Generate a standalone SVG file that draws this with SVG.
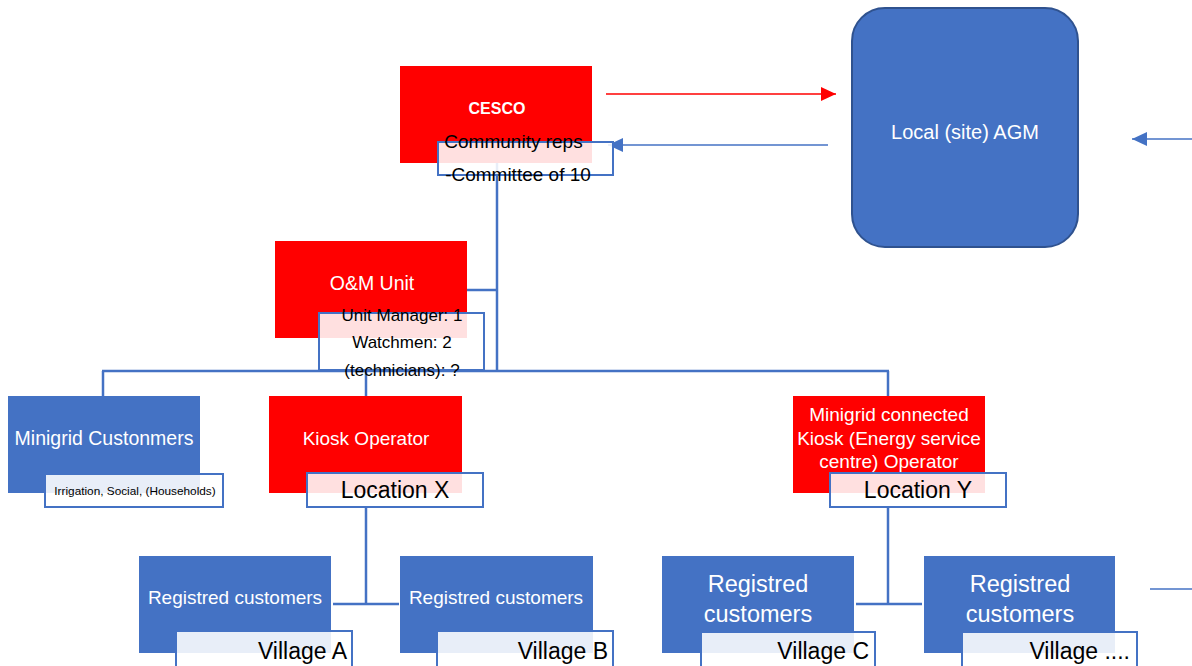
<svg xmlns="http://www.w3.org/2000/svg" width="1192" height="666" viewBox="0 0 1192 666">
<style>
.red{fill:#ff0000}
.blue{fill:#4472c4}
.sub{fill:#ffffff;fill-opacity:0.88;stroke:#4472c4;stroke-width:2}
.conn{stroke:#4472c4;stroke-width:2.5;fill:none}
.arr{stroke-width:1.5;fill:none}
text{font-family:"Liberation Sans",Arial,sans-serif}
.w{fill:#ffffff}
.k{fill:#000000}
.m{text-anchor:middle}
.e{text-anchor:end}
</style>
<defs>
<marker id="ahRed" markerUnits="userSpaceOnUse" markerWidth="16" markerHeight="16" refX="15" refY="7" orient="auto"><path d="M0,0 L15,7 L0,14 Z" fill="#ff0000"/></marker>
<marker id="ahBlue" markerUnits="userSpaceOnUse" markerWidth="16" markerHeight="16" refX="15" refY="7" orient="auto"><path d="M0,0 L15,7 L0,14 Z" fill="#4472c4"/></marker>
</defs>
<g id="connectors">
<line class="conn" x1="497" y1="163" x2="497" y2="371"/>
<line class="conn" x1="467" y1="290" x2="497" y2="290"/>
<line class="conn" x1="102" y1="371" x2="889" y2="371"/>
<line class="conn" x1="103" y1="371" x2="103" y2="396"/>
<line class="conn" x1="366" y1="371" x2="366" y2="396"/>
<line class="conn" x1="888" y1="371" x2="888" y2="396"/>
<line class="conn" x1="366" y1="507" x2="366" y2="604"/>
<line class="conn" x1="333" y1="604" x2="399" y2="604"/>
<line class="conn" x1="888" y1="507" x2="888" y2="604"/>
<line class="conn" x1="856" y1="604" x2="922" y2="604"/>
<line class="arr" stroke="#4472c4" x1="1150" y1="589" x2="1192" y2="589"/>
<line class="arr" stroke="#ff0000" x1="606" y1="94" x2="836" y2="94" marker-end="url(#ahRed)"/>
<line class="arr" stroke="#4472c4" x1="828" y1="145" x2="608" y2="145" marker-end="url(#ahBlue)"/>
<line class="arr" stroke="#4472c4" x1="1192" y1="139" x2="1132" y2="139" marker-end="url(#ahBlue)"/>
</g>
<g id="cesco">
<rect class="red" x="400" y="66" width="192" height="97"/>
<rect class="sub" x="438" y="142" width="175" height="33"/>
<text class="w m" x="497" y="114" font-size="16" font-weight="bold">CESCO</text>
<text class="k m" x="513.5" y="148" font-size="19">Community reps</text>
<text class="k m" x="518" y="181" font-size="19">-Committee of 10</text>
</g>
<g id="agm">
<rect x="852" y="8" width="226" height="239" rx="33" ry="33" fill="#4472c4" stroke="#2f528f" stroke-width="2"/>
<text class="w m" x="965" y="139" font-size="20">Local (site) AGM</text>
</g>
<g id="om-unit">
<rect class="red" x="275" y="241" width="192" height="97"/>
<rect class="sub" x="319" y="313" width="165" height="57"/>
<text class="w m" x="372" y="290" font-size="19.5">O&amp;M Unit</text>
<text class="k m" x="402" y="321" font-size="17">Unit Manager: 1</text>
<text class="k m" x="402" y="348" font-size="17">Watchmen: 2</text>
<text class="k m" x="402" y="376" font-size="17">(technicians): ?</text>
</g>
<g id="minigrid-customers">
<rect class="blue" x="8" y="396" width="192" height="97"/>
<rect class="sub" x="45" y="474" width="178" height="33"/>
<text class="w m" x="104" y="445" font-size="19.5">Minigrid Custonmers</text>
<text class="k m" x="135" y="495" font-size="11.8">Irrigation, Social, (Households)</text>
</g>
<g id="kiosk-operator">
<rect class="red" x="269" y="396" width="193" height="97"/>
<rect class="sub" x="307" y="473" width="176" height="34"/>
<text class="w m" x="366" y="445" font-size="19">Kiosk Operator</text>
<text class="k m" x="395" y="498" font-size="23">Location X</text>
</g>
<g id="minigrid-kiosk">
<rect class="red" x="793" y="396" width="192" height="97"/>
<rect class="sub" x="830" y="473" width="176" height="34"/>
<text class="w m" x="889" y="421" font-size="19">Minigrid connected</text>
<text class="w m" x="889" y="445" font-size="19">Kiosk (Energy service</text>
<text class="w m" x="889" y="468" font-size="19">centre) Operator</text>
<text class="k m" x="918" y="498" font-size="23">Location Y</text>
</g>
<g id="village-a">
<rect class="blue" x="139" y="556" width="192" height="97"/>
<rect class="sub" x="176" y="631" width="176" height="40"/>
<text class="w m" x="235" y="604" font-size="19">Registred customers</text>
<text class="k e" x="347" y="659" font-size="23">Village A</text>
</g>
<g id="village-b">
<rect class="blue" x="400" y="556" width="193" height="97"/>
<rect class="sub" x="437" y="631" width="176" height="40"/>
<text class="w m" x="496" y="604" font-size="19">Registred customers</text>
<text class="k e" x="608" y="659" font-size="23">Village B</text>
</g>
<g id="village-c">
<rect class="blue" x="662" y="556" width="192" height="97"/>
<rect class="sub" x="701" y="632" width="174" height="40"/>
<text class="w m" x="758" y="592" font-size="23.5">Registred</text>
<text class="w m" x="758" y="622" font-size="23.5">customers</text>
<text class="k e" x="869" y="659" font-size="23">Village C</text>
</g>
<g id="village-d">
<rect class="blue" x="924" y="556" width="191" height="97"/>
<rect class="sub" x="962" y="632" width="175" height="40"/>
<text class="w m" x="1020" y="592" font-size="23.5">Registred</text>
<text class="w m" x="1020" y="622" font-size="23.5">customers</text>
<text class="k e" x="1130" y="659" font-size="23">Village ....</text>
</g>
</svg>
